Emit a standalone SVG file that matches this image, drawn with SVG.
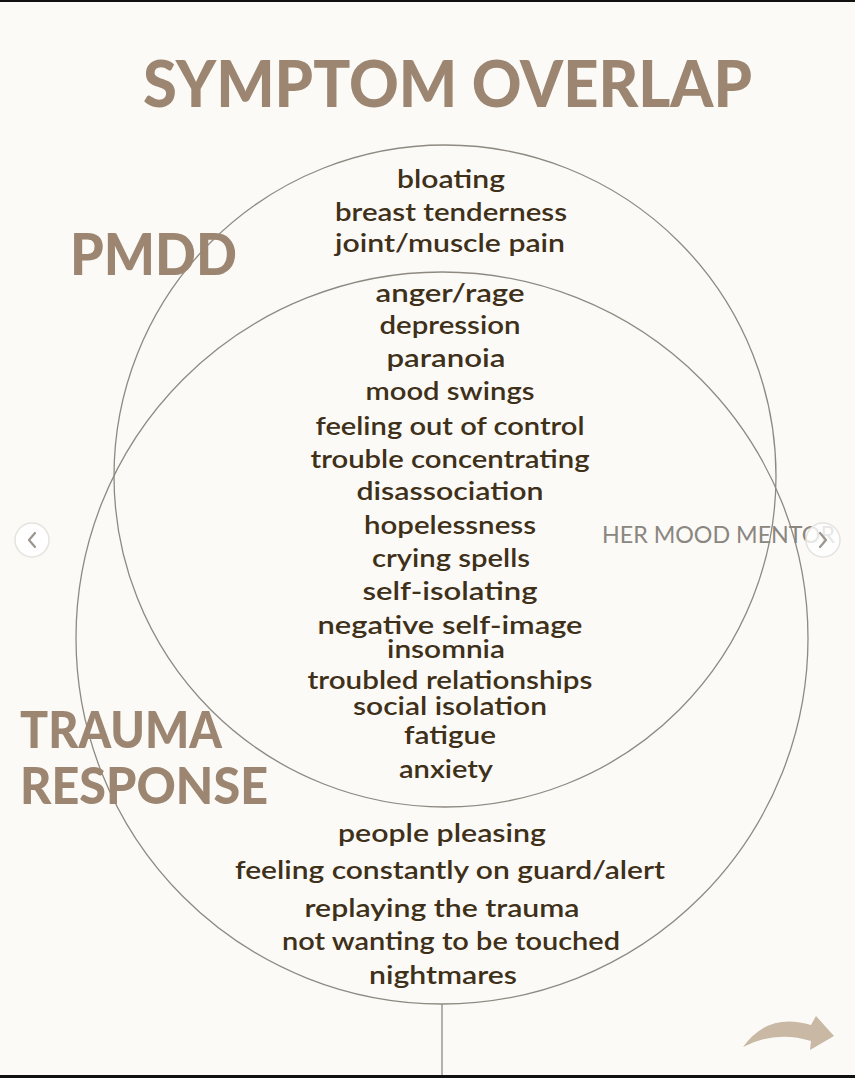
<svg xmlns="http://www.w3.org/2000/svg" width="855" height="1078" viewBox="0 0 855 1078">
<style>
.title{font-family:Lato,"Liberation Sans",sans-serif;font-weight:900;fill:#9c8671}
.item{font-family:Lato,"Liberation Sans",sans-serif;font-weight:600;font-size:25px;fill:#3e3019;text-anchor:middle}
.ring{fill:none;stroke:#8e8a82;stroke-width:1.3}
.nav{fill:#ffffff;stroke:#e6e3df;stroke-width:1.5}
.chev{fill:none;stroke:#9a9690;stroke-width:2.2;stroke-linecap:round;stroke-linejoin:round}
</style>
<rect x="0" y="0" width="855" height="1078" fill="#fcfaf7"/>
<rect x="0" y="0" width="855" height="2" fill="#111"/>
<rect x="0" y="1075" width="855" height="3" fill="#111"/>

<g id="connectors">
<circle id="pmdd-circle" class="ring" cx="445" cy="476" r="331"/>
<circle id="trauma-circle" class="ring" cx="442" cy="638" r="366"/>
<line class="ring" x1="442" y1="1004" x2="442" y2="1075"/>
</g>

<g id="title"><text class="title" x="143" y="107" font-size="64" textLength="609" lengthAdjust="spacingAndGlyphs">SYMPTOM OVERLAP</text></g>
<g id="label-pmdd"><text class="title" x="70" y="275" font-size="58" textLength="167" lengthAdjust="spacingAndGlyphs">PMDD</text></g>
<g id="label-trauma">
<text class="title" x="20" y="748" font-size="52" textLength="202" lengthAdjust="spacingAndGlyphs">TRAUMA</text>
<text class="title" x="20" y="804" font-size="52" textLength="248" lengthAdjust="spacingAndGlyphs">RESPONSE</text>
</g>
<g id="watermark"><text x="602" y="543" font-family="Lato,'Liberation Sans',sans-serif" font-size="23" fill="#8a8680" textLength="233" lengthAdjust="spacingAndGlyphs">HER MOOD MENTOR</text></g>

<g id="pmdd-only">
<text class="item" x="451" y="188" textLength="108" lengthAdjust="spacingAndGlyphs">bloating</text>
<text class="item" x="451" y="221" textLength="232" lengthAdjust="spacingAndGlyphs">breast tenderness</text>
<text class="item" x="450" y="252" textLength="230" lengthAdjust="spacingAndGlyphs">joint/muscle pain</text>
</g>
<g id="overlap">
<text class="item" x="450" y="302" textLength="149" lengthAdjust="spacingAndGlyphs">anger/rage</text>
<text class="item" x="450" y="334" textLength="141" lengthAdjust="spacingAndGlyphs">depression</text>
<text class="item" x="446" y="367" textLength="119" lengthAdjust="spacingAndGlyphs">paranoia</text>
<text class="item" x="450" y="400" textLength="169" lengthAdjust="spacingAndGlyphs">mood swings</text>
<text class="item" x="450" y="435" textLength="269" lengthAdjust="spacingAndGlyphs">feeling out of control</text>
<text class="item" x="450" y="468" textLength="279" lengthAdjust="spacingAndGlyphs">trouble concentrating</text>
<text class="item" x="450" y="500" textLength="187" lengthAdjust="spacingAndGlyphs">disassociation</text>
<text class="item" x="450" y="534" textLength="172" lengthAdjust="spacingAndGlyphs">hopelessness</text>
<text class="item" x="451" y="567" textLength="158" lengthAdjust="spacingAndGlyphs">crying spells</text>
<text class="item" x="450" y="600" textLength="175" lengthAdjust="spacingAndGlyphs">self-isolating</text>
<text class="item" x="450" y="634" textLength="265" lengthAdjust="spacingAndGlyphs">negative self-image</text>
<text class="item" x="446" y="658" textLength="118" lengthAdjust="spacingAndGlyphs">insomnia</text>
<text class="item" x="450" y="689" textLength="285" lengthAdjust="spacingAndGlyphs">troubled relationships</text>
<text class="item" x="450" y="715" textLength="194" lengthAdjust="spacingAndGlyphs">social isolation</text>
<text class="item" x="450" y="744" textLength="92" lengthAdjust="spacingAndGlyphs">fatigue</text>
<text class="item" x="446" y="778" textLength="94" lengthAdjust="spacingAndGlyphs">anxiety</text>
</g>
<g id="trauma-only">
<text class="item" x="442" y="842" textLength="208" lengthAdjust="spacingAndGlyphs">people pleasing</text>
<text class="item" x="450" y="879" textLength="430" lengthAdjust="spacingAndGlyphs">feeling constantly on guard/alert</text>
<text class="item" x="442" y="917" textLength="275" lengthAdjust="spacingAndGlyphs">replaying the trauma</text>
<text class="item" x="451" y="950" textLength="338" lengthAdjust="spacingAndGlyphs">not wanting to be touched</text>
<text class="item" x="443" y="984" textLength="148" lengthAdjust="spacingAndGlyphs">nightmares</text>
</g>

<g id="nav-left"><circle class="nav" cx="32" cy="540" r="17"/><path class="chev" d="M35,533 L29,540 L35,547"/></g>
<g id="nav-right"><circle class="nav" cx="823" cy="540" r="17" fill-opacity="0.8"/><path class="chev" d="M820,533 L826,540 L820,547"/></g>
<g id="next-arrow"><path d="M743,1047 Q768,1012 811,1025 L816,1016 L834,1036 L810,1050 L811,1041 Q776,1030 743,1047 Z" fill="#c8b8a4"/></g>
</svg>
